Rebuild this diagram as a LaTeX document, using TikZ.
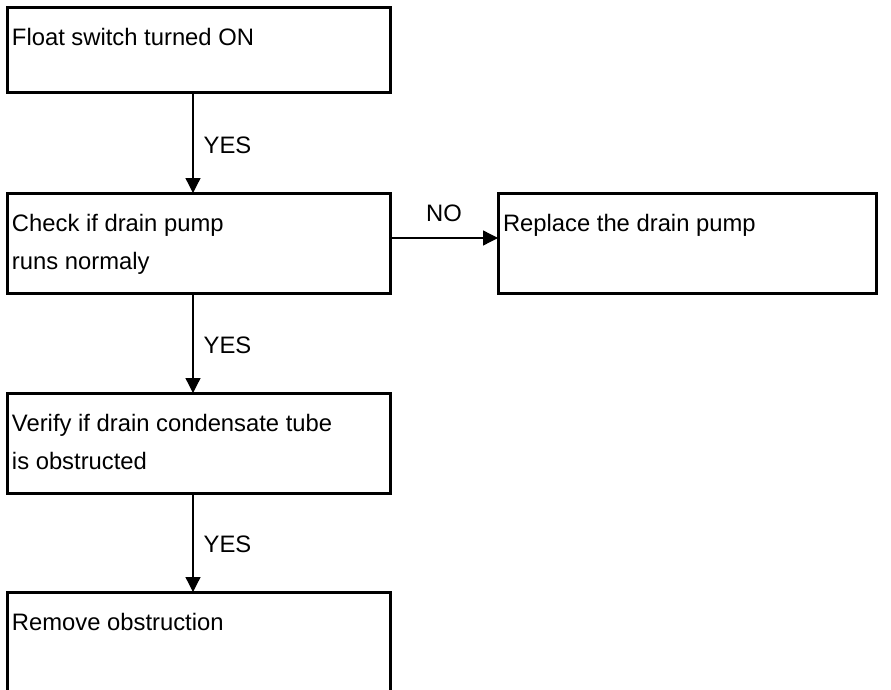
\documentclass[tikz,border=0pt]{standalone}
\usepackage{fontspec}
\setmainfont{Liberation Sans}
\usepackage{tikz}
\usetikzlibrary{positioning, arrows.meta}

\newcommand{\steptext}[3]{\parbox[c][#2][t]{#1}{\raggedright\rule{0pt}{38pt}#3}}

\begin{document}
\begin{tikzpicture}[
		stepbox/.style={draw, line width=3pt, inner xsep=5pt, inner ysep=0pt, outer sep=0pt, font=\fontsize{23.8}{38}\selectfont},
		flow/.style={line width=1.3pt, -{Triangle[length=15pt, width=15pt]}},
		lbl/.style={inner sep=2pt, font=\fontsize{23.8}{28}\selectfont}]
			\useasboundingbox (0,0) rectangle (891pt,-690pt);
			\clip (0,0) rectangle (891pt,-690pt);
			\node[stepbox, anchor=north west] (fsw) at (7pt,-8pt) {\steptext{373pt}{85pt}{Float switch turned ON}};
			\node[stepbox, below = 100pt of fsw] (chk) {\steptext{373pt}{100pt}{Check if drain pump\\runs normaly}};
			\node[stepbox, right = 108pt of chk] (rep) {\steptext{368pt}{100pt}{Replace the drain pump}};
			\node[stepbox, below = 100pt of chk] (vfy) {\steptext{373pt}{100pt}{Verify if drain condensate tube\\is obstructed}};
			\node[stepbox, below = 99pt of vfy] (rmv) {\steptext{373pt}{110pt}{Remove obstruction}};
			\draw[flow] ([xshift=-5.5pt]fsw.south) -- node[lbl, right=8pt, pos=0.52]{YES} ([xshift=-5.5pt]chk.north);
			\draw[flow] ([yshift=5pt]chk.east) -- node[lbl, above=14pt]{NO} ([yshift=5pt]rep.west);
			\draw[flow] ([xshift=-5.5pt]chk.south) -- node[lbl, right=8pt, pos=0.52]{YES} ([xshift=-5.5pt]vfy.north);
			\draw[flow] ([xshift=-5.5pt]vfy.south) -- node[lbl, right=8pt, pos=0.52]{YES} ([xshift=-5.5pt]rmv.north);
		\end{tikzpicture}
\end{document}
